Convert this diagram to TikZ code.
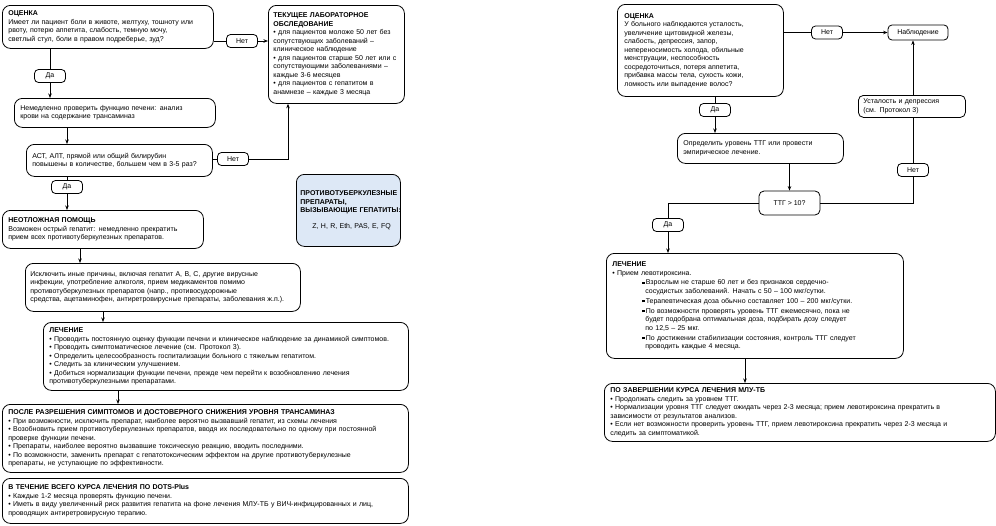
\documentclass[tikz,border=0pt]{standalone}
\usepackage{fontspec}
\setmainfont{Liberation Sans}
\usetikzlibrary{arrows.meta}
\newcommand{\dfont}{\fontsize{7}{8.5}\selectfont}
\newcommand{\sqb}{\rule[0.6pt]{2.2pt}{2.2pt}}
\definecolor{drugblue}{RGB}{221,232,246}
\begin{document}
\begin{tikzpicture}[x=1pt,y=-1pt,
  box/.style={draw, line width=0.8pt, rounded corners=8pt, inner sep=0pt, align=left, font=\dfont, anchor=north west},
  lbl/.style={draw, line width=0.8pt, rounded corners=4pt, inner sep=0pt, font=\dfont, minimum width=31pt, minimum height=13pt},
  ln/.style={line width=0.7pt},
  arr/.style={line width=0.7pt, -{Stealth[length=4.5pt,width=3.5pt]}}]
\useasboundingbox (0,0) rectangle (996,525);

% ---------------- left diagram ----------------
\node[box, minimum width=211pt, minimum height=43pt, text width=199pt] (o1) at (2,5)
 {\textbf{ОЦЕНКА}\\Имеет ли пациент боли в животе, желтуху, тошноту или\\рвоту, потерю аппетита, слабость, темную мочу,\\светлый стул, боли в правом подреберье, зуд?};
\node[lbl] (n1) at (242,41) {Нет};
\node[box, minimum width=136pt, minimum height=98pt, text width=126pt] (lab) at (268,5)
 {\textbf{ТЕКУЩЕЕ ЛАБОРАТОРНОЕ}\\\textbf{ОБСЛЕДОВАНИЕ}\\• для пациентов моложе 50 лет без\\сопутствующих заболеваний –\\клиническое наблюдение\\• для пациентов старше 50 лет или с\\сопутствующими заболеваниями –\\каждые 3-6 месяцев\\• для пациентов с гепатитом в\\анамнезе – каждые 3 месяца};
\node[lbl] (d1) at (50,76) {Да};
\node[box, minimum width=201pt, minimum height=29pt, text width=189pt] (imm) at (14,98)
 {Немедленно проверить функцию печени: анализ\\крови на содержание трансаминаз};
\node[box, minimum width=186pt, minimum height=32pt, text width=174pt] (ast) at (26,144)
 {АСТ, АЛТ, прямой или общий билирубин\\повышены в количестве, большем чем в 3-5 раз?};
\node[lbl] (n2) at (233,159) {Нет};
\node[lbl] (d2) at (67,187) {Да};
\node[box, minimum width=201pt, minimum height=38pt, text width=189pt] (urg) at (2,210)
 {\textbf{НЕОТЛОЖНАЯ ПОМОЩЬ}\\Возможен острый гепатит: немедленно прекратить\\прием всех противотуберкулезных препаратов.};
\node[box, minimum width=275pt, minimum height=48pt, text width=265pt] (excl) at (25,263)
 {Исключить иные причины, включая гепатит А, В, С, другие вирусные\\инфекции, употребление алкоголя, прием медикаментов помимо\\противотуберкулезных препаратов (напр., противосудорожные\\средства, ацетаминофен, антиретровирусные препараты, заболевания ж.п.).};
\node[box, minimum width=365pt, minimum height=68pt, text width=353pt] (tr1) at (43,322)
 {\textbf{ЛЕЧЕНИЕ}\\• Проводить постоянную оценку функции печени и клиническое наблюдение за динамикой симптомов.\\• Проводить симптоматическое лечение (см. Протокол 3).\\• Определить целесообразность госпитализации больного с тяжелым гепатитом.\\• Следить за клиническим улучшением.\\• Добиться нормализации функции печени, прежде чем перейти к возобновлению лечения\\противотуберкулезными препаратами.};
\node[box, minimum width=406pt, minimum height=68pt, text width=394pt] (after) at (2,404)
 {\textbf{ПОСЛЕ РАЗРЕШЕНИЯ СИМПТОМОВ И ДОСТОВЕРНОГО СНИЖЕНИЯ УРОВНЯ ТРАНСАМИНАЗ}\\• При возможности, исключить препарат, наиболее вероятно вызвавший гепатит, из схемы лечения\\• Возобновить прием противотуберкулезных препаратов, вводя их последовательно по одному при постоянной\\проверке функции печени.\\• Препараты, наиболее вероятно вызвавшие токсическую реакцию, вводить последними.\\• По возможности, заменить препарат с гепатотоксическим эффектом на другие противотуберкулезные\\препараты, не уступающие по эффективности.};
\node[box, minimum width=406pt, minimum height=45pt, text width=394pt] (dur) at (2,478)
 {\textbf{В ТЕЧЕНИЕ ВСЕГО КУРСА ЛЕЧЕНИЯ ПО DOTS-Plus}\\• Каждые 1-2 месяца проверять функцию печени.\\• Иметь в виду увеличенный риск развития гепатита на фоне лечения МЛУ-ТБ у ВИЧ-инфицированных и лиц,\\проводящих антиретровирусную терапию.};
\node[box, fill=drugblue, minimum width=104pt, minimum height=72pt, text width=96pt] (drugs) at (296,174)
 {\mbox{\textbf{ПРОТИВОТУБЕРКУЛЕЗНЫЕ}}\\\mbox{\textbf{ПРЕПАРАТЫ,}}\\\mbox{\textbf{ВЫЗЫВАЮЩИЕ ГЕПАТИТЫ:}}\\[7pt]\hspace*{12pt}Z, H, R, Eth, PAS, E, FQ};

\coordinate (xa) at (80,0);
\coordinate (xb) at (103,0);
\coordinate (xc) at (118,0);
\coordinate (xl) at (288,0);

\draw[ln] (o1.east |- n1) -- (n1.west);
\draw[arr] (n1.east) -- (n1 -| lab.west);
\draw[ln] (o1.south -| d1) -- (d1.north);
\draw[arr] (d1.south) -- (d1 |- imm.north);
\draw[arr] (imm.south -| d2) -- (d2 |- ast.north);
\draw[ln] (ast.east |- n2) -- (n2.west);
\draw[arr] (n2.east) -| (xl |- lab.south);
\draw[ln] (ast.south -| d2) -- (d2.north);
\draw[arr] (d2.south) -- (d2 |- urg.north);
\draw[arr] (urg.south -| xa) -- (xa |- excl.north);
\draw[arr] (excl.south -| xb) -- (xb |- tr1.north);
\draw[arr] (tr1.south -| xc) -- (xc |- after.north);

% ---------------- right diagram ----------------
\node[box, minimum width=166pt, minimum height=92pt, text width=152pt] (o2) at (617,4)
 {\textbf{ОЦЕНКА}\\У больного наблюдаются усталость,\\увеличение щитовидной железы,\\слабость, депрессия, запор,\\непереносимость холода, обильные\\менструации, неспособность\\сосредоточиться, потеря аппетита,\\прибавка массы тела, сухость кожи,\\ломкость или выпадение волос?};
\node[lbl] (n3) at (827,32.5) {Нет};
\node[lbl, minimum width=60pt, minimum height=15pt] (obs) at (918,32.5) {Наблюдение};
\node[box, rounded corners=5pt, minimum width=107pt, minimum height=22pt, text width=97pt] (fat) at (858,95)
 {Усталость и депрессия\\(см. Протокол 3)};
\node[lbl] (d3) at (715,110) {Да};
\node[box, minimum width=166pt, minimum height=30pt, text width=154pt] (det) at (677,133)
 {Определить уровень ТТГ или провести\\эмпирическое лечение.};
\node[lbl, minimum width=61pt, minimum height=24pt, rounded corners=5pt] (tsh) at (789.5,203) {ТТГ > 10?};
\node[lbl] (n4) at (913,170) {Нет};
\node[lbl] (d4) at (668,225) {Да};
\node[box, minimum width=297pt, minimum height=105pt, text width=285pt] (tr2) at (606,253)
 {\textbf{ЛЕЧЕНИЕ}\\
  • Прием левотироксина.\\[1pt]
  \hspace*{30pt}\sqb\,Взрослым не старше 60 лет и без признаков сердечно-\\
  \hspace*{33pt}сосудистых заболеваний. Начать с 50 – 100 мкг/сутки.\\[1.5pt]
  \hspace*{30pt}\sqb\,Терапевтическая доза обычно составляет 100 – 200 мкг/сутки.\\[1.5pt]
  \hspace*{30pt}\sqb\,По возможности проверять уровень ТТГ ежемесячно, пока не\\
  \hspace*{33pt}будет подобрана оптимальная доза, подбирать дозу следует\\
  \hspace*{33pt}по 12,5 – 25 мкг.\\[1.5pt]
  \hspace*{30pt}\sqb\,По достижении стабилизации состояния, контроль ТТГ следует\\
  \hspace*{33pt}проводить каждые 4 месяца.};
\node[box, minimum width=391pt, minimum height=58pt, text width=379pt] (fin) at (604,383)
 {\textbf{ПО ЗАВЕРШЕНИИ КУРСА ЛЕЧЕНИЯ МЛУ-ТБ}\\• Продолжать следить за уровнем ТТГ.\\• Нормализации уровня ТТГ следует ожидать через 2-3 месяца; прием левотироксина прекратить в\\зависимости от результатов анализов.\\• Если нет возможности проверить уровень ТТГ, прием левотироксина прекратить через 2-3 месяца и\\следить за симптоматикой.};

\coordinate (xr) at (745,0);

\draw[ln] (o2.east |- n3) -- (n3.west);
\draw[arr] (n3.east) -- (n3 -| obs.west);
\draw[ln] (o2.south -| d3) -- (d3.north);
\draw[arr] (d3.south) -- (d3 |- det.north);
\draw[arr] (det.south -| tsh) -- (tsh.north);
\draw[ln] (tsh.east) -| (n4.south);
\draw[ln] (n4.north) -- (n4 |- fat.south);
\draw[arr] (fat.north -| n4) -- (n4 |- obs.south);
\draw[ln] (tsh.west) -| (d4.north);
\draw[arr] (d4.south) -- (d4 |- tr2.north);
\draw[arr] (tr2.south -| xr) -- (xr |- fin.north);
\end{tikzpicture}
\end{document}
